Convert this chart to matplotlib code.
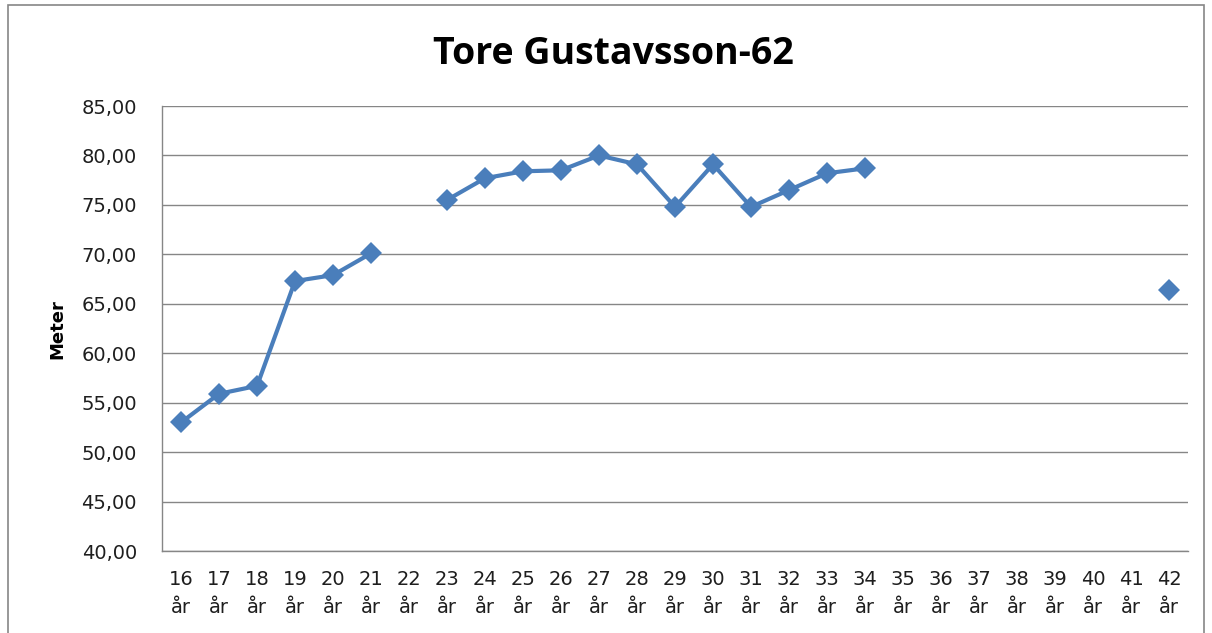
import numpy as np
import matplotlib.pyplot as plt
from matplotlib.patches import Rectangle

# ages on the x axis and the best throw per age (NaN = no result)
ages = list(range(16, 43))
meters = [53.0, 55.9, 56.7, 67.3, 67.9, 70.1, np.nan, 75.5, 77.7, 78.4,
          78.5, 80.0, 79.1, 74.8, 79.1, 74.8, 76.5, 78.2, 78.7,
          np.nan, np.nan, np.nan, np.nan, np.nan, np.nan, np.nan, 66.4]
tick_labels = [f"{a}\når" for a in ages]
y_ticks = [40, 45, 50, 55, 60, 65, 70, 75, 80, 85]

plt.rcParams['font.family'] = ['DejaVu Sans']

fig = plt.figure(figsize=(12.12, 6.33), dpi=100)
ax = fig.add_axes([0.1337, 0.1295, 0.8465, 0.703])

x = np.arange(len(ages))
ax.plot(x, meters, color="#4a7ebb", linewidth=3.0, marker="D",
        markersize=11.5, markeredgewidth=0, solid_joinstyle="round")

ax.set_xlim(-0.5, len(ages) - 0.5)
ax.set_ylim(40, 85)
ax.set_yticks(y_ticks)
ax.set_yticklabels([f"{v:.2f}".replace(".", ",") for v in y_ticks])
ax.set_xticks(x)
ax.set_xticklabels(tick_labels, linespacing=1.6)
ax.tick_params(axis="both", length=0, labelsize=14, colors="#1e1e1e")
ax.tick_params(axis="x", pad=14)
ax.tick_params(axis="y", pad=18)

ax.yaxis.grid(True, color="#868686", linewidth=1.0)
ax.set_axisbelow(True)
for side in ["top", "right"]:
    ax.spines[side].set_visible(False)
for side in ["left", "bottom"]:
    ax.spines[side].set_color("#868686")
    ax.spines[side].set_linewidth(1.0)

fig.text(57 / 1212, 1 - 329 / 633, "Meter", rotation=90, ha="center", va="center",
         fontsize=13, fontweight="bold")
fig.text(0.506, 1 - 54 / 633, "Tore Gustavsson-62", ha="center", va="center",
         fontsize=27, fontweight="bold", family=["Open Sans", "DejaVu Sans"])

# chart area border
fig.patches.append(Rectangle((0.007, -0.05), 0.986, 1.042, transform=fig.transFigure,
                             fill=False, edgecolor="#868686", linewidth=1.2))

fig.savefig("out.png", dpi=100)
